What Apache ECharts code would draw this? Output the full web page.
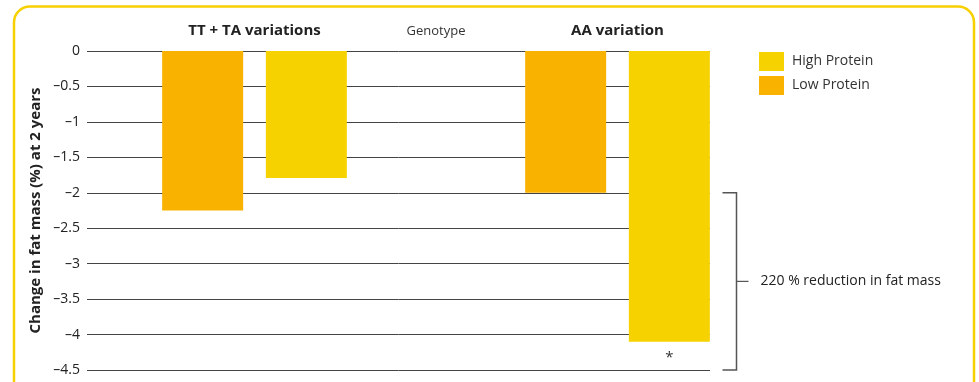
<!DOCTYPE html>
<html>
<head>
<meta charset="utf-8">
<script src="https://cdn.jsdelivr.net/npm/echarts@6/dist/echarts.min.js"></script>
<style>
html,body{margin:0;padding:0;background:#fff;}
#chart{width:979px;height:382px;}
</style>
</head>
<body>
<div id="chart"></div>
<script>
var categories = ['TT + TA variations', 'AA variation'];
var lowProtein = [-2.25, -2.0];
var highProtein = [-1.79, -4.1];
var yMin = -4.5, yMax = 0, yStep = 0.5;
var bracketFrom = -2.0, bracketTo = -4.5;
var bracketText = '220 % reduction in fat mass';
var significance = [null, '*'];

var FONT = '"Open Sans", "Noto Sans", sans-serif';
var chart = echarts.init(document.getElementById('chart'));

var option = {
  animation: false,
  textStyle: { fontFamily: FONT },
  grid: [
    { left: 87, right: 269, top: 51, bottom: 12 },
    { left: 73, right: 180, top: 51, bottom: 12 }
  ],
  xAxis: [
    { gridIndex: 0, type: 'value', show: false, min: 0, max: 1 },
    {
      gridIndex: 1, type: 'category', data: categories, position: 'top',
      axisLine: { show: false }, axisTick: { show: false },
      axisLabel: { margin: 13, fontSize: 15, fontWeight: 'bold', color: '#222', fontFamily: FONT },
      name: 'Genotype', nameLocation: 'middle', nameGap: 13, nameMoveOverlap: false,
      nameTextStyle: { fontSize: 13, color: '#333', fontFamily: FONT }
    }
  ],
  yAxis: [
    {
      gridIndex: 0, type: 'value', min: yMin, max: yMax, interval: yStep,
      axisLine: { show: false }, axisTick: { show: false },
      axisLabel: {
        margin: 7, fontSize: 14, color: '#222', fontFamily: FONT,
        formatter: function (v) { return String(v).replace('-', '\u2013'); }
      },
      splitLine: { lineStyle: { color: '#444', width: 1 } },
      name: 'Change in fat mass (%) at 2 years', nameLocation: 'middle', nameGap: 44,
      nameMoveOverlap: false,
      nameTextStyle: { fontSize: 15, fontWeight: 'bold', color: '#222', fontFamily: FONT }
    },
    { gridIndex: 1, type: 'value', min: yMin, max: yMax, interval: yStep, show: false, splitLine: { show: false } }
  ],
  legend: {
    orient: 'vertical', left: 759, top: 52, padding: 0,
    data: ['High Protein', 'Low Protein'],
    icon: 'rect', itemWidth: 25, itemHeight: 19, itemGap: 5,
    textStyle: { fontSize: 14, color: '#333', fontFamily: FONT, padding: [0, 0, 0, 3] }
  },
  series: [
    {
      name: 'Low Protein', type: 'bar', xAxisIndex: 1, yAxisIndex: 1,
      data: lowProtein, barWidth: 81, barGap: '28%',
      itemStyle: { color: '#F9B200' }
    },
    {
      name: 'High Protein', type: 'bar', xAxisIndex: 1, yAxisIndex: 1,
      data: highProtein.map(function (v, i) {
        return significance[i] ? {
          value: v,
          label: { show: true, position: 'bottom', distance: 9, formatter: significance[i],
                   fontSize: 15, color: '#333', fontFamily: FONT }
        } : v;
      }),
      barWidth: 81, barGap: '28%',
      itemStyle: { color: '#F6D300' }
    }
  ]
};
chart.setOption(option);

function drawExtras() {
  var yA = chart.convertToPixel({ yAxisIndex: 0 }, bracketFrom);
  var yB = chart.convertToPixel({ yAxisIndex: 0 }, bracketTo);
  var xCat = chart.convertToPixel({ xAxisIndex: 1 }, categories[1]);
  var x0 = xCat + 105, x1 = xCat + 119;
  var yMid = (yA + yB) / 2;
  chart.setOption({
    graphic: [
      {
        type: 'rect', silent: true, z: -1,
        shape: { x: 14, y: 6.5, width: 960, height: 420, r: 16 },
        style: { fill: 'none', stroke: '#F7D000', lineWidth: 2.5 }
      },
      {
        type: 'polyline', silent: true,
        shape: { points: [[x0, yA], [x1, yA], [x1, yB], [x0, yB]] },
        style: { fill: 'none', stroke: '#555', lineWidth: 1.5 }
      },
      {
        type: 'line', silent: true,
        shape: { x1: x1, y1: yMid, x2: x1 + 12, y2: yMid },
        style: { stroke: '#555', lineWidth: 1.2 }
      },
      {
        type: 'text', silent: true,
        style: { x: x1 + 24, y: yMid, text: bracketText, fontSize: 14, fill: '#222',
                 fontFamily: FONT, verticalAlign: 'middle', align: 'left' }
      }
    ]
  });
}
drawExtras();
</script>
</body>
</html>
